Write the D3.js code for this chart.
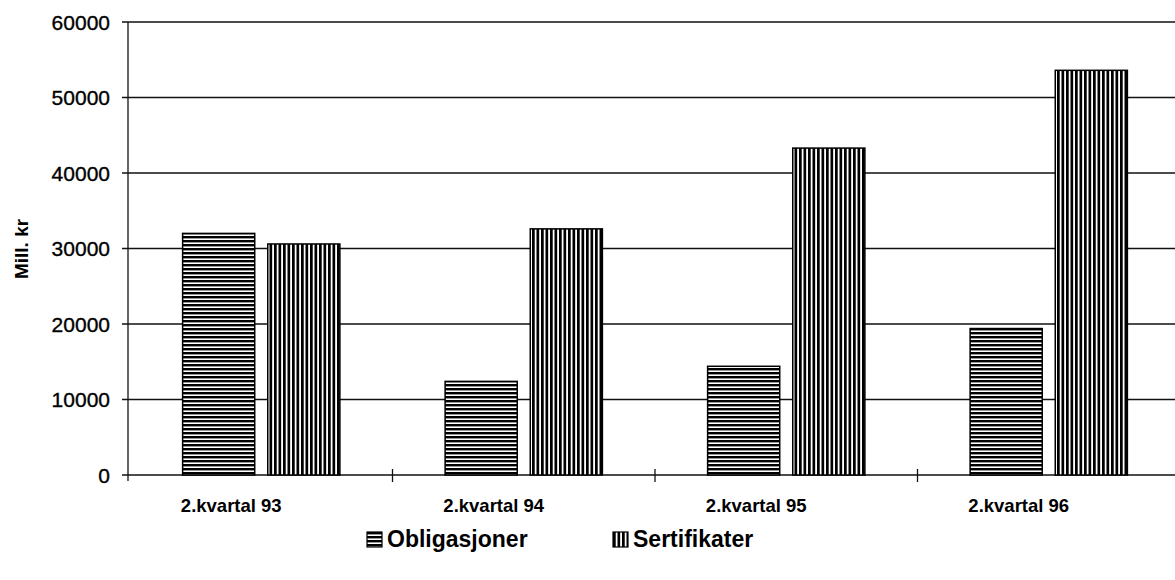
<!DOCTYPE html>
<html>
<head>
<meta charset="utf-8">
<script src="https://cdn.jsdelivr.net/npm/d3@7/dist/d3.min.js"></script>
<style>
  html, body { margin: 0; padding: 0; background: #fff; }
  svg { display: block; }
  text { font-family: "Liberation Sans", Arial, Helvetica, sans-serif; fill: #000; }
</style>
</head>
<body>
<svg id="chart" width="1175" height="580"></svg>
<script>
const categories = ["2.kvartal 93", "2.kvartal 94", "2.kvartal 95", "2.kvartal 96"];
const seriesNames = ["Obligasjoner", "Sertifikater"];
const obligasjoner = [32000, 12400, 14400, 19400];
const sertifikater = [30600, 32600, 43300, 53600];
const yTicks = [0, 10000, 20000, 30000, 40000, 50000, 60000];
const yTitle = "Mill. kr";

const seriesValues = [obligasjoner, sertifikater];
const data = categories.map((c, i) => ({
  cat: c,
  vals: seriesNames.map((s, j) => ({ series: s, idx: j, value: seriesValues[j][i] }))
}));

const svg = d3.select("#chart");
const W = 1175;
const axisX = 128;

const y = d3.scaleLinear().domain([0, 60000]).range([475, 22]);
const x0 = d3.scaleBand().domain(categories).range([130, 1180]).padding(0);
const x1 = d3.scaleBand().domain(seriesNames).range([0, x0.bandwidth()])
  .paddingInner(0.153).paddingOuter(0.618);

// patterns
const defs = svg.append("defs");
const ph = defs.append("pattern").attr("id", "hatchH")
  .attr("patternUnits", "userSpaceOnUse").attr("width", 8).attr("height", 4);
ph.append("rect").attr("width", 8).attr("height", 4).attr("fill", "#fff");
ph.append("rect").attr("y", 0).attr("width", 8).attr("height", 2.4).attr("fill", "#000");

const pv = defs.append("pattern").attr("id", "hatchV")
  .attr("patternUnits", "userSpaceOnUse").attr("width", 4.5).attr("height", 8);
pv.append("rect").attr("width", 4.5).attr("height", 8).attr("fill", "#fff");
pv.append("rect").attr("x", 0).attr("width", 2.7).attr("height", 8).attr("fill", "#000");

const fills = ["url(#hatchH)", "url(#hatchV)"];

// gridlines
svg.append("g").selectAll("line").data(yTicks).join("line")
  .attr("x1", axisX - 6).attr("x2", W)
  .attr("y1", d => y(d)).attr("y2", d => y(d))
  .attr("stroke", "#111").attr("stroke-width", 1.3);

// y axis line
svg.append("line").attr("x1", axisX).attr("x2", axisX)
  .attr("y1", y(60000)).attr("y2", y(0) + 6)
  .attr("stroke", "#111").attr("stroke-width", 1.3);

// y tick labels
svg.append("g").selectAll("text").data(yTicks).join("text")
  .attr("x", 110).attr("y", d => y(d)).attr("dy", "0.36em")
  .attr("text-anchor", "end").attr("font-size", 21)
  .attr("stroke", "#000").attr("stroke-width", 0.35)
  .text(d => d);

// x axis ticks at category boundaries
const boundaries = categories.slice(1).map(c => x0(c));
svg.append("g").selectAll("line").data(boundaries).join("line")
  .attr("x1", d => d).attr("x2", d => d)
  .attr("y1", y(0) - 6).attr("y2", y(0) + 7)
  .attr("stroke", "#111").attr("stroke-width", 1.3);

// bars
const groups = svg.append("g").selectAll("g").data(data).join("g")
  .attr("transform", d => `translate(${x0(d.cat)},0)`);
groups.selectAll("rect").data(d => d.vals).join("rect")
  .attr("x", d => x1(d.series))
  .attr("width", x1.bandwidth())
  .attr("y", d => y(d.value))
  .attr("height", d => y(0) - y(d.value))
  .attr("fill", d => fills[d.idx])
  .attr("stroke", "#000").attr("stroke-width", 1.5);

// x labels
svg.append("g").selectAll("text").data(categories).join("text")
  .attr("x", d => x0(d) + x0.bandwidth() / 2 - 30)
  .attr("y", 512)
  .attr("text-anchor", "middle").attr("font-size", 18.5).attr("font-weight", "bold")
  .text(d => d);

// y title
svg.append("text")
  .attr("transform", "translate(28,249) rotate(-90)")
  .attr("text-anchor", "middle").attr("font-size", 19).attr("font-weight", "bold")
  .text(yTitle);

// legend
const legendX = [367, 613];
const lg = svg.append("g").selectAll("g").data(seriesNames).join("g")
  .attr("transform", (d, i) => `translate(${legendX[i]},532)`);
lg.append("rect").attr("width", 15).attr("height", 15)
  .attr("fill", (d, i) => fills[i]).attr("stroke", "#000").attr("stroke-width", 1.2);
lg.append("text").attr("x", 20).attr("y", 14.5)
  .attr("font-size", 23).attr("font-weight", "bold")
  .text(d => d);
</script>
</body>
</html>
